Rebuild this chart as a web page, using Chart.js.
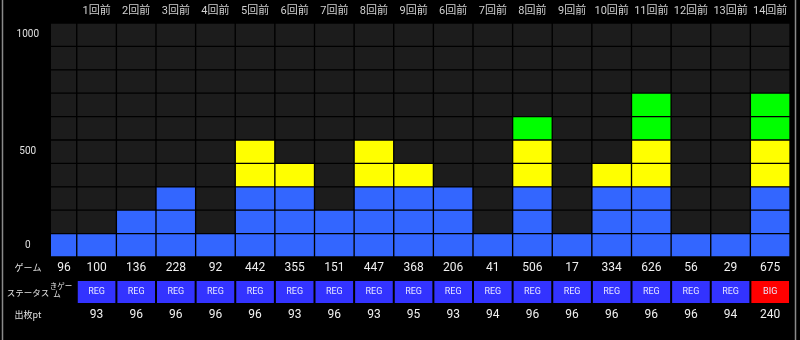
<!DOCTYPE html>
<html>
<head>
<meta charset="utf-8">
<script src="https://cdn.jsdelivr.net/npm/chart.js@4.4.1/dist/chart.umd.min.js"></script>
<style>
  html, body { margin: 0; padding: 0; background: #000; }
  #wrap { width: 800px; height: 340px; position: relative; }
</style>
</head>
<body>
<div id="wrap"><canvas id="chart" width="800" height="340"></canvas></div>
<script>
// column headers (first column has none)
const headers = ["", "1回前", "2回前", "3回前", "4回前", "5回前", "6回前", "7回前", "8回前", "9回前",
  "6回前", "7回前", "8回前", "9回前", "10回前", "11回前", "12回前", "13回前", "14回前"];
const games = [96, 100, 136, 228, 92, 442, 355, 151, 447, 368, 206, 41, 506, 17, 334, 626, 56, 29, 675];
const statuses = ["", "REG", "REG", "REG", "REG", "REG", "REG", "REG", "REG", "REG",
  "REG", "REG", "REG", "REG", "REG", "REG", "REG", "REG", "BIG"];
const payouts = [null, 93, 96, 96, 96, 96, 93, 96, 93, 95, 93, 94, 96, 96, 96, 96, 96, 94, 240];
const rowColors = ["#3366ff", "#3366ff", "#3366ff", "#ffff00", "#ffff00", "#00ff00", "#00ff00", "#ff0000", "#ff0000", "#ff0000"];
const yTickValues = [50, 450, 950];
const yTickLabels = ["0", "500", "1000"];
const cellSize = 100;
const emptyColor = "#1c1c1c";

const statusColors = { REG: "#3333ff", BIG: "#ff0000" };

const datasets = rowColors.map((col, r) => ({
  data: games.map((g, i) => ({ x: i, y: cellSize })),
  backgroundColor: games.map(g => g > r * cellSize ? col : emptyColor),
  borderColor: "#000",
  borderWidth: 1,
  borderSkipped: false,
  barPercentage: 1,
  categoryPercentage: 1,
  clip: 0
}));

const bottomRows = {
  id: "bottomRows",
  beforeDraw(chart) {
    const ctx = chart.ctx;
    ctx.save();
    ctx.strokeStyle = "#8a8a8a";
    ctx.lineWidth = 1.5;
    ctx.beginPath();
    ctx.moveTo(2.5, 0); ctx.lineTo(2.5, 340);
    ctx.moveTo(795.5, 0); ctx.lineTo(795.5, 340);
    ctx.stroke();
    ctx.restore();
  },
  afterDraw(chart) {
    const ctx = chart.ctx;
    const x = chart.scales.x;
    const area = chart.chartArea;
    const w = x.getPixelForValue(1) - x.getPixelForValue(0);
    ctx.save();
    ctx.textAlign = "center";
    ctx.textBaseline = "middle";

    // row labels
    ctx.fillStyle = "#e0e0e0";
    ctx.font = "9px 'Noto Sans CJK JP', Roboto, sans-serif";
    ctx.fillText("ゲーム", 28, 268);
    ctx.fillText("出枚pt", 28, 315);
    ctx.font = "8.5px 'Noto Sans CJK JP', Roboto, sans-serif";
    ctx.fillText("ステータス", 28, 293);
    ctx.font = "7.5px 'Noto Sans CJK JP', Roboto, sans-serif";
    ctx.fillText("きゲー", 61, 286);
    ctx.fillText("ム", 57, 294);

    games.forEach((g, i) => {
      const cx = x.getPixelForValue(i);
      const left = Math.max(area.left, cx - w / 2);
      const right = Math.min(area.right, cx + w / 2);
      const mid = (left + right) / 2;
      ctx.fillStyle = "#f0f0f0";
      ctx.font = "12px Roboto, sans-serif";
      ctx.fillText(String(g), mid, 268);
      if (payouts[i] !== null) ctx.fillText(String(payouts[i]), mid, 315);
      if (statuses[i]) {
        ctx.fillStyle = statusColors[statuses[i]];
        ctx.fillRect(left + 1, 281, right - left - 2, 22);
        ctx.fillStyle = "#e8e8ff";
        ctx.font = "9px Roboto, sans-serif";
        ctx.fillText(statuses[i], mid, 292);
      }
    });
    ctx.restore();
  }
};

new Chart(document.getElementById("chart"), {
  type: "bar",
  data: { datasets },
  options: {
    responsive: false,
    animation: false,
    layout: { autoPadding: false, padding: { left: 6, right: 10, top: 0, bottom: 83 } },
    plugins: { legend: { display: false }, tooltip: { enabled: false } },
    scales: {
      x: {
        type: "linear",
        position: "top",
        stacked: true,
        offset: false,
        min: -0.15,
        max: 18.5,
        grid: { display: false, drawTicks: false },
        border: { display: false },
        afterBuildTicks: s => { s.ticks = headers.map((h, i) => ({ value: i })); },
        afterFit: s => { s.height = 23; },
        ticks: {
          autoSkip: false,
          maxRotation: 0,
          padding: 5,
          color: "#d0d0d0",
          font: { family: "Roboto, 'Noto Sans CJK JP', sans-serif", size: 11 },
          callback: (v) => headers[v] || ""
        }
      },
      y: {
        stacked: true,
        min: 0,
        max: 1000,
        grid: { display: false, drawTicks: false },
        border: { display: false },
        afterBuildTicks: s => { s.ticks = yTickValues.map(v => ({ value: v })); },
        afterFit: s => { s.width = 45; },
        ticks: {
          crossAlign: "center",
          padding: 12,
          color: "#e0e0e0",
          font: { family: "Roboto, sans-serif", size: 10 },
          callback: (v) => yTickLabels[yTickValues.indexOf(v)]
        }
      }
    }
  },
  plugins: [bottomRows]
});
</script>
</body>
</html>
